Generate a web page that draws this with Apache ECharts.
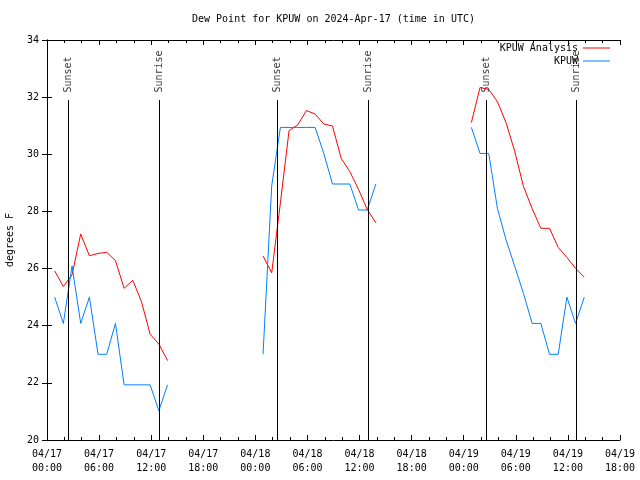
<!DOCTYPE html>
<html><head><meta charset="utf-8">
<script src="https://cdn.jsdelivr.net/npm/echarts@6/dist/echarts.min.js"></script>
<style>html,body{margin:0;padding:0;background:#fff}#c{width:640px;height:480px}</style>
</head><body><div id="c"></div>
<script>
const FONT = 'DejaVu Sans Mono';
const tickLabels = ['04/17\n00:00','04/17\n06:00','04/17\n12:00','04/17\n18:00',
  '04/18\n00:00','04/18\n06:00','04/18\n12:00','04/18\n18:00',
  '04/19\n00:00','04/19\n06:00','04/19\n12:00','04/19\n18:00'];

const times1 = ['04/17 00:53','04/17 01:53','04/17 02:53','04/17 03:53','04/17 04:53','04/17 05:53','04/17 06:53',
  '04/17 07:53','04/17 08:53','04/17 09:53','04/17 10:53','04/17 11:53','04/17 12:53','04/17 13:53'];
const times2 = ['04/18 00:53','04/18 01:53','04/18 02:53','04/18 03:53','04/18 04:53','04/18 05:53','04/18 06:53',
  '04/18 07:53','04/18 08:53','04/18 09:53','04/18 10:53','04/18 11:53','04/18 12:53','04/18 13:53'];
const times3 = ['04/19 00:53','04/19 01:53','04/19 02:53','04/19 03:53','04/19 04:53','04/19 05:53','04/19 06:53',
  '04/19 07:53','04/19 08:53','04/19 09:53','04/19 10:53','04/19 11:53','04/19 12:53','04/19 13:53'];

const analysis1 = [25.92,25.37,25.78,27.21,26.45,26.53,26.57,26.28,25.31,25.59,24.84,23.70,23.36,22.78];
const analysis2 = [26.44,25.85,28.30,30.83,31.03,31.53,31.41,31.06,30.99,29.86,29.39,28.77,28.07,27.60];
const analysis3 = [31.11,32.34,32.27,31.84,31.10,30.09,28.87,28.10,27.41,27.41,26.74,26.39,26.01,25.70];

const kpuw1 = [25.0,24.08,26.09,24.08,25.0,23.0,23.0,24.08,21.93,21.93,21.93,21.93,21.02,21.93];
const kpuw2 = [23.0,28.9,30.94,30.94,30.94,30.94,30.94,30.03,28.96,28.96,28.96,28.05,28.05,28.96];
const kpuw3 = [30.94,30.03,30.03,28.1,27.0,26.07,25.13,24.08,24.08,23.0,23.0,25.0,24.08,25.0];

const sunNames = ['Sunset','Sunrise','Sunset','Sunrise','Sunset','Sunrise'];
const sunTimes = ['04/17 02:29','04/17 12:57','04/18 02:30','04/18 12:58','04/19 02:38','04/19 12:59'];

function toH(s){
  const [d,t] = s.split(' ');
  const day = +d.split('/')[1];
  const [hh,mm] = t.split(':').map(Number);
  return (day-17)*24 + hh + mm/60;
}
function build(segsT, segsV){
  const out = [];
  segsT.forEach((ts,k)=>{
    if(k>0) out.push([toH(ts[0])-1,'-']);
    ts.forEach((t,i)=>out.push([toH(t), segsV[k][i]]));
  });
  return out;
}
const sunLineTop = 31.9;

const chart = echarts.init(document.getElementById('c'));
const xCommon = {type:'value', min:0, max:66, interval:6,
  axisLine:{show:true,lineStyle:{color:'#000',width:1}},
  axisTick:{show:true,inside:true,length:5,lineStyle:{color:'#000'}},
  minorTick:{show:true,splitNumber:3,length:3,lineStyle:{color:'#000'}},
  splitLine:{show:false}};
const yCommon = {type:'value', min:20, max:34, interval:2,
  axisLine:{show:true,lineStyle:{color:'#000',width:1}},
  axisTick:{show:true,inside:true,length:5,lineStyle:{color:'#000'}},
  splitLine:{show:false}};
const legendCommon = {orient:'vertical', align:'right', right:30, padding:0, icon:'rect', itemWidth:27, itemHeight:1,
  selectedMode:false, textStyle:{fontFamily:FONT,fontSize:10,color:'#000'}};

chart.setOption({
  animation:false,
  backgroundColor:'#fff',
  title:{text:'Dew Point for KPUW on 2024-Apr-17 (time in UTC)', left:192, top:14, padding:0,
    textStyle:{fontFamily:FONT,fontSize:10,fontWeight:'normal',color:'#000'}},
  grid:{left:47,right:20,top:40,bottom:40,containLabel:false,outerBoundsMode:'none'},
  legend:[Object.assign({data:['KPUW Analysis'],top:43},legendCommon),
          Object.assign({data:['KPUW'],top:56},legendCommon)],
  xAxis:[Object.assign({position:'bottom',
      axisLabel:{show:true,margin:7,lineHeight:14,fontFamily:FONT,fontSize:10,color:'#000',
        formatter:v=>tickLabels[Math.round(v/6)]}},xCommon),
    Object.assign({position:'top',axisLabel:{show:false}},xCommon)],
  yAxis:[Object.assign({position:'left',name:'degrees F',nameLocation:'middle',nameGap:32,nameRotate:90,
      nameTextStyle:{fontFamily:FONT,fontSize:10,color:'#000'},
      axisLabel:{show:true,margin:8,fontFamily:FONT,fontSize:10,color:'#000'}},yCommon),
    Object.assign({position:'right',axisLabel:{show:false}},yCommon)],
  series:[
    {type:'scatter', silent:true, symbol:'circle', symbolSize:1, itemStyle:{color:'rgba(0,0,0,0)'},
     data:sunTimes.map((t,i)=>({value:[toH(t),sunLineTop],name:sunNames[i]})),
     label:{show:true,formatter:'{b}',position:'top',distance:7,rotate:90,align:'left',verticalAlign:'middle',
       fontFamily:FONT,fontSize:10,color:'#000'},
     markLine:{silent:true,symbol:['none','none'],label:{show:false},animation:false,
       lineStyle:{color:'#000',width:1,type:'solid'},
       emphasis:{disabled:true},
       data:sunTimes.map(t=>[{coord:[toH(t),20]},{coord:[toH(t),sunLineTop]}])}},
    {name:'KPUW Analysis',type:'line',symbol:'none',connectNulls:false,
     lineStyle:{color:'#ff0000',width:1},itemStyle:{color:'#ff0000'},
     data:build([times1,times2,times3],[analysis1,analysis2,analysis3])},
    {name:'KPUW',type:'line',symbol:'none',connectNulls:false,
     lineStyle:{color:'#0080ff',width:1},itemStyle:{color:'#0080ff'},
     data:build([times1,times2,times3],[kpuw1,kpuw2,kpuw3])}
  ]
});
</script></body></html>
